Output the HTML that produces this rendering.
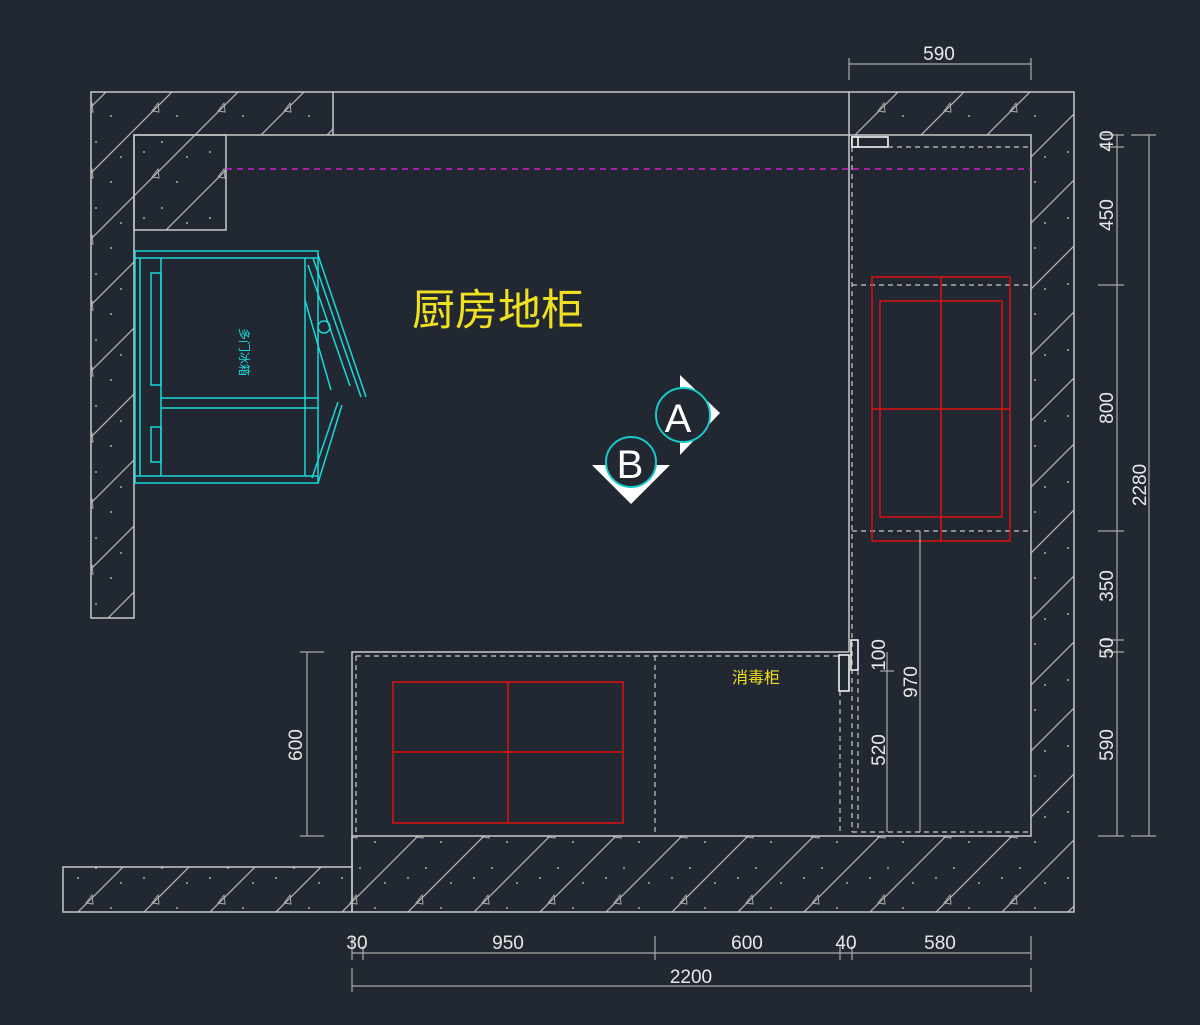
<!DOCTYPE html>
<html><head><meta charset="utf-8"><style>
html,body{margin:0;padding:0;background:#222831;}
svg{display:block}
text{font-family:"Liberation Sans","Noto Sans CJK SC",sans-serif;}
</style></head><body>
<svg width="1200" height="1025" viewBox="0 0 1200 1025" xmlns="http://www.w3.org/2000/svg">
<defs>
<pattern id="h" width="66" height="66" patternUnits="userSpaceOnUse">
<line x1="0" y1="66" x2="66" y2="0" stroke="#b8b8b8" stroke-width="1.2"/>
<line x1="-33" y1="33" x2="33" y2="-33" stroke="#b8b8b8" stroke-width="1.2"/>
<line x1="33" y1="99" x2="99" y2="33" stroke="#b8b8b8" stroke-width="1.2"/>
<circle cx="12" cy="20" r="1" fill="#aaa"/><circle cx="45" cy="50" r="1" fill="#aaa"/><circle cx="30" cy="10" r="1" fill="#aaa"/><circle cx="55" cy="25" r="1" fill="#aaa"/>
<path d="M20 45 l6 -8 l1 9 z" fill="none" stroke="#aaa" stroke-width="1"/>
</pattern>
</defs>
<rect width="1200" height="1025" fill="#222831"/>
<g fill="url(#h)" stroke="#c8c8c8" stroke-width="1.5">
<path d="M91 92 H333 V135 H134 V618 H91 Z"/>
<rect x="134" y="135" width="92" height="95"/>
<path d="M849 92 H1074 V912 H352 V836 H1031 V135 H849 Z"/>
<rect x="63" y="867" width="289" height="45"/>
</g>
<g stroke="#c8c8c8" stroke-width="1.5" fill="none">
<line x1="333" y1="92" x2="849" y2="92"/>
<line x1="333" y1="135" x2="849" y2="135"/>
<line x1="849" y1="135" x2="849" y2="652"/>
<path d="M849 652 H352 V867"/>
</g>
<g stroke="#fff" stroke-width="1.5" fill="#222831">
<rect x="852" y="137" width="36" height="10"/>
<rect x="852" y="137" width="6" height="10"/>
<rect x="851" y="640" width="7" height="30"/>
<rect x="839" y="655" width="10" height="36"/>
</g>
<g stroke="#c8c8c8" stroke-width="1.2" fill="none" stroke-dasharray="5,4">
<line x1="852" y1="147" x2="852" y2="832"/>
<line x1="858" y1="670" x2="858" y2="832"/>
<line x1="852" y1="285" x2="1031" y2="285"/>
<line x1="852" y1="531" x2="1031" y2="531"/>
<line x1="852" y1="832" x2="1031" y2="832"/>
<line x1="888" y1="147" x2="1031" y2="147"/>
<line x1="356" y1="656" x2="839" y2="656"/>
<line x1="356" y1="656" x2="356" y2="836"/>
<line x1="655" y1="656" x2="655" y2="836"/>
<line x1="840" y1="691" x2="840" y2="836"/>
</g>
<line x1="226" y1="169" x2="1031" y2="169" stroke="#d020d0" stroke-width="1.5" stroke-dasharray="6,5"/>
<g stroke="#e01010" stroke-width="1.5" fill="none">
<rect x="872" y="277" width="138" height="264"/>
<rect x="880" y="301" width="122" height="216"/>
<line x1="941" y1="277" x2="941" y2="541"/>
<line x1="872" y1="409" x2="1010" y2="409"/>
<rect x="393" y="682" width="230" height="141"/>
<line x1="508" y1="682" x2="508" y2="823"/>
<line x1="393" y1="752" x2="623" y2="752"/>
</g>
<g stroke="#19d8d8" stroke-width="1.5" fill="none">
<rect x="135" y="251" width="183" height="232"/>
<line x1="135" y1="258" x2="318" y2="258"/>
<line x1="135" y1="476" x2="318" y2="476"/>
<line x1="140" y1="258" x2="140" y2="476"/>
<line x1="161" y1="258" x2="161" y2="476"/>
<rect x="151" y="273" width="10" height="112"/>
<rect x="151" y="427" width="10" height="35"/>
<line x1="161" y1="398" x2="318" y2="398"/>
<line x1="161" y1="408" x2="318" y2="408"/>
<line x1="305" y1="258" x2="305" y2="476"/>
<line x1="318" y1="255" x2="366" y2="397"/>
<line x1="313" y1="258" x2="361" y2="397"/>
<line x1="308" y1="265" x2="350" y2="386"/>
<line x1="305" y1="300" x2="331" y2="390"/>
<line x1="318" y1="483" x2="342" y2="405"/>
<line x1="312" y1="478" x2="338" y2="402"/>
<circle cx="324" cy="327" r="6"/>
</g>
<text transform="translate(240,328) rotate(90)" fill="#19d8d8" font-size="12">多门冰箱</text>
<text x="412" y="325" fill="#f0e020" font-size="43" font-family="Noto Sans CJK SC,sans-serif">厨房地柜</text>
<text x="732" y="683" fill="#f0e020" font-size="16">消毒柜</text>
<g>
<polygon points="680,375 720,413 680,455" fill="#fff"/>
<circle cx="683" cy="415" r="27" fill="#222831" stroke="#19c8c8" stroke-width="2"/>
<text x="678" y="432" fill="#fff" font-size="40" font-family="Liberation Serif,serif" text-anchor="middle">A</text>
<polygon points="592,465 670,465 631,504" fill="#fff"/>
<circle cx="631" cy="462" r="25" fill="#222831" stroke="#19c8c8" stroke-width="2"/>
<text x="630" y="478" fill="#fff" font-size="40" font-family="Liberation Serif,serif" text-anchor="middle">B</text>
</g>
<g stroke="#aaa" stroke-width="1.2" fill="none">
<line x1="849" y1="64" x2="1031" y2="64"/><line x1="849" y1="58" x2="849" y2="80"/><line x1="1031" y1="58" x2="1031" y2="80"/>
<line x1="1117" y1="135" x2="1117" y2="836"/>
<line x1="1100" y1="135" x2="1124" y2="135"/><line x1="1100" y1="147" x2="1124" y2="147"/><line x1="1098" y1="285" x2="1124" y2="285"/><line x1="1098" y1="531" x2="1124" y2="531"/><line x1="1100" y1="640" x2="1124" y2="640"/><line x1="1100" y1="652" x2="1124" y2="652"/><line x1="1098" y1="836" x2="1124" y2="836"/>
<line x1="1149" y1="135" x2="1149" y2="836"/><line x1="1131" y1="135" x2="1156" y2="135"/><line x1="1131" y1="836" x2="1156" y2="836"/>
<line x1="352" y1="953" x2="1031" y2="953"/>
<line x1="352" y1="936" x2="352" y2="960"/><line x1="363" y1="946" x2="363" y2="960"/><line x1="655" y1="936" x2="655" y2="960"/><line x1="840" y1="946" x2="840" y2="960"/><line x1="852" y1="946" x2="852" y2="960"/><line x1="1031" y1="936" x2="1031" y2="960"/>
<line x1="352" y1="986" x2="1031" y2="986"/><line x1="352" y1="968" x2="352" y2="992"/><line x1="1031" y1="968" x2="1031" y2="992"/>
<line x1="307" y1="652" x2="307" y2="836"/><line x1="300" y1="652" x2="324" y2="652"/><line x1="300" y1="836" x2="324" y2="836"/>
<line x1="887" y1="652" x2="887" y2="832"/><line x1="880" y1="671" x2="894" y2="671"/>
<line x1="920" y1="531" x2="920" y2="832"/>
</g>
<g fill="#e8e8e8" font-size="19" text-anchor="middle">
<text x="939" y="60">590</text>
<text x="357" y="949">30</text><text x="508" y="949">950</text><text x="747" y="949">600</text><text x="846" y="949">40</text><text x="940" y="949">580</text>
<text x="691" y="983">2200</text>
<text transform="translate(1113,141) rotate(-90)">40</text>
<text transform="translate(1113,215) rotate(-90)">450</text>
<text transform="translate(1113,408) rotate(-90)">800</text>
<text transform="translate(1146,485) rotate(-90)">2280</text>
<text transform="translate(1113,586) rotate(-90)">350</text>
<text transform="translate(1113,648) rotate(-90)">50</text>
<text transform="translate(1113,745) rotate(-90)">590</text>
<text transform="translate(302,745) rotate(-90)">600</text>
<text transform="translate(885,655) rotate(-90)">100</text>
<text transform="translate(885,750) rotate(-90)">520</text>
<text transform="translate(917,682) rotate(-90)">970</text>
</g>
</svg>
</body></html>
